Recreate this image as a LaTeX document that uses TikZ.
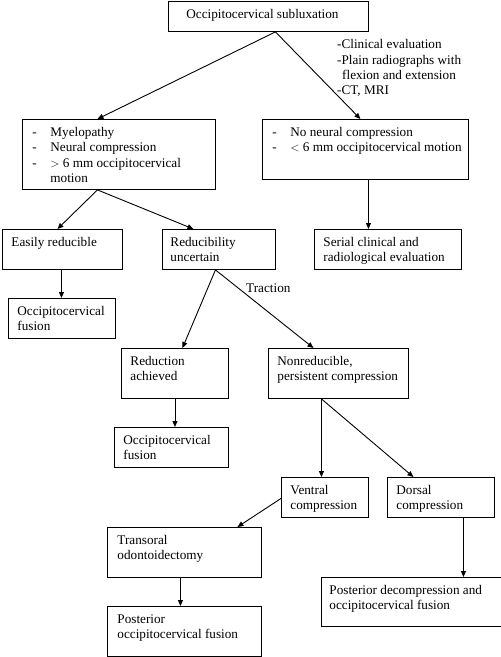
\documentclass[tikz,border=0pt]{standalone}
\usepackage{fontspec}
\setmainfont{Liberation Serif}
\usetikzlibrary{arrows.meta}
\newcommand\fbx[7]{\node[boxst,anchor=north west] (#1) at (#2,#3)
  {\parbox[c][\dimexpr #5pt-#3pt\relax][t]{\dimexpr #4pt-#2pt\relax}{\vspace*{8pt}\raggedright\leftskip=#6pt\relax #7}};}
\newcommand\dsh{\makebox[18pt][l]{-}}
\begin{document}
\begin{tikzpicture}[x=1pt,y=-1pt,
  boxst/.style={draw=black,line width=0.9pt,inner sep=0pt,font=\fontsize{13.2}{15.3}\selectfont},
  lbl/.style={inner sep=0pt,align=left,font=\fontsize{13.2}{15.3}\selectfont},
  arr/.style={line width=0.9pt,-{Triangle[length=6pt,width=5pt]}}]
\useasboundingbox (0,0) rectangle (501,657);
\fbx{top}{168}{1}{368}{31}{18}{Occipitocervical subluxation}
\fbx{myel}{22}{119}{215}{189}{10}{\dsh Myelopathy\\\dsh Neural compression\\\dsh $>$ 6 mm occipitocervical\\\hspace*{18pt}motion}
\fbx{nonn}{262}{119}{468}{179}{10}{\dsh No neural compression\\\dsh $<$ 6 mm occipitocervical motion}
\fbx{easy}{2}{229}{122}{269}{9}{Easily reducible}
\fbx{reduc}{162}{229}{275}{269}{8}{Reducibility\\uncertain}
\fbx{serial}{314}{229}{461}{269}{9}{Serial clinical and\\radiological evaluation}
\fbx{fus1}{8}{298}{115}{338}{9}{Occipitocervical\\fusion}
\fbx{redach}{121}{348}{228}{398}{9}{Reduction\\achieved}
\fbx{nonred}{268}{348}{408}{398}{9}{Nonreducible,\\persistent compression}
\fbx{fus2}{114}{427}{228}{467}{9}{Occipitocervical\\fusion}
\fbx{ventral}{281}{477}{368}{517}{9}{Ventral\\compression}
\fbx{dorsal}{387}{477}{494}{517}{9}{Dorsal\\compression}
\fbx{trans}{107}{527}{261}{577}{10}{Transoral\\odontoidectomy}
\fbx{post1}{107}{606}{261}{656}{10}{Posterior\\occipitocervical fusion}
\fbx{post2}{321}{577}{500.5}{626}{8}{Posterior decompression and\\occipitocervical fusion}
\node[lbl,anchor=north west] (evallbl) at (337,39.5) {-Clinical evaluation\\-Plain radiographs with\\\hspace*{5pt}flexion and extension\\-CT, MRI};
\node[lbl,anchor=base west] (traction) at (246,292.5) {Traction};
\draw[arr] ([xshift=7pt]top.south) -- ([xshift=-21.5pt]myel.north);
\draw[arr] ([xshift=7pt]top.south) -- ([xshift=-5pt]nonn.north);
\draw[arr] ([xshift=3pt]nonn.south) -- ([xshift=3pt]nonn.south |- serial.north);
\draw[arr] ([xshift=-21.5pt]myel.south) -- ([xshift=-5pt]easy.north);
\draw[arr] ([xshift=-21.5pt]myel.south) -- ([xshift=-25.5pt]reduc.north);
\draw[arr] ([xshift=-1pt]easy.south) -- ([xshift=-1pt]easy.south |- fus1.north);
\draw[arr] ([xshift=-3.5pt]reduc.south) -- ([xshift=7.5pt]redach.north);
\draw[arr] ([xshift=-3.5pt]reduc.south) -- ([xshift=-25pt]nonred.north);
\draw[arr] (redach.south) -- (redach.south |- fus2.north);
\draw[arr] ([xshift=-17pt]nonred.south) -- ([xshift=-17pt]nonred.south |- ventral.north);
\draw[arr] ([xshift=-17pt]nonred.south) -- ([xshift=-27.5pt]dorsal.north);
\draw[arr] ([yshift=-1pt]ventral.west) -- ([xshift=53pt]trans.north);
\draw[arr] ([xshift=-4pt]trans.south) -- ([xshift=-4pt]trans.south |- post1.north);
\draw[arr] ([xshift=22.5pt]dorsal.south) -- ([xshift=22.5pt]dorsal.south |- post2.north);
\end{tikzpicture}
\end{document}
